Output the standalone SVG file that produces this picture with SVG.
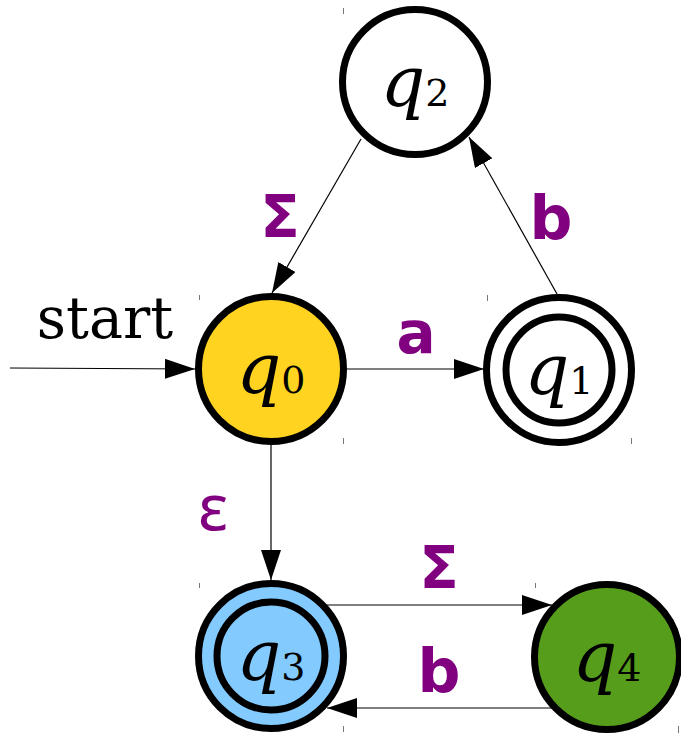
<svg xmlns="http://www.w3.org/2000/svg" width="681" height="734" viewBox="0 0 681 734">
<defs>
<marker id="arr" markerUnits="userSpaceOnUse" markerWidth="30" markerHeight="20" refX="30" refY="10" orient="auto">
<path d="M0,0 L30,10 L0,20 z" fill="#000"/>
</marker>
<style>
.st{stroke:#000;stroke-width:7}
.in{fill:none;stroke:#000;stroke-width:7}
.ed{fill:none;stroke:#000;stroke-width:1.2}
.tk{stroke:#777;stroke-width:1}
.nl{font-family:"DejaVu Serif",serif;text-anchor:middle;fill:#000}
.nl .q{font-style:italic;font-size:70px}
.nl .d{font-size:38px}
.lb{font-family:"DejaVu Sans",sans-serif;font-weight:bold;fill:#800080;text-anchor:middle}
</style>
</defs>
<rect width="681" height="734" fill="#fff"/>
<g id="ticks">
<line class="tk" x1="343.5" y1="8" x2="343.5" y2="14"/>
<line class="tk" x1="199.5" y1="295" x2="199.5" y2="300"/>
<line class="tk" x1="343.5" y1="438" x2="343.5" y2="444"/>
<line class="tk" x1="487.5" y1="295" x2="487.5" y2="301"/>
<line class="tk" x1="631.5" y1="438" x2="631.5" y2="444"/>
<line class="tk" x1="199.5" y1="583" x2="199.5" y2="588"/>
<line class="tk" x1="343.5" y1="726" x2="343.5" y2="732"/>
<line class="tk" x1="535.5" y1="583" x2="535.5" y2="588"/>
<line class="tk" x1="678.5" y1="726" x2="678.5" y2="733"/>
</g>
<g id="connectors">
<line class="ed" x1="10" y1="368" x2="195" y2="369" marker-end="url(#arr)"/>
<line class="ed" x1="361" y1="139" x2="272" y2="293" marker-end="url(#arr)"/>
<line class="ed" x1="557" y1="294" x2="469" y2="137" marker-end="url(#arr)"/>
<line class="ed" x1="347" y1="369" x2="484" y2="369" marker-end="url(#arr)"/>
<line class="ed" x1="271" y1="444" x2="271" y2="580" marker-end="url(#arr)"/>
<line class="ed" x1="326" y1="605" x2="552" y2="605" marker-end="url(#arr)"/>
<line class="ed" x1="553" y1="708" x2="327" y2="708" marker-end="url(#arr)"/>
</g>
<g id="labels">
<text x="105" y="338" font-family="DejaVu Serif, serif" font-size="57" text-anchor="middle">start</text>
<text class="lb" x="280" y="237" font-size="58">Σ</text>
<text class="lb" x="551" y="239" font-size="60">b</text>
<text class="lb" x="416" y="353" font-size="58">a</text>
<text x="213" y="530" font-family="Noto Sans, sans-serif" font-size="64" fill="#800080" text-anchor="middle">ε</text>
<text class="lb" x="439" y="588" font-size="58">Σ</text>
<text class="lb" x="439" y="692" font-size="60">b</text>
</g>
<g id="q2">
<circle class="st" cx="415" cy="82" r="72.5" fill="#fff"/>
<text class="nl" x="415" y="106"><tspan class="q">q</tspan><tspan class="d">2</tspan></text>
</g>
<g id="q0">
<circle class="st" cx="271" cy="369" r="72.5" fill="#FFD320"/>
<text class="nl" x="271" y="393"><tspan class="q">q</tspan><tspan class="d">0</tspan></text>
</g>
<g id="q1">
<circle class="st" cx="559" cy="370" r="72.5" fill="#fff"/>
<circle class="in" cx="559" cy="370" r="53"/>
<text class="nl" x="559" y="394"><tspan class="q">q</tspan><tspan class="d">1</tspan></text>
</g>
<g id="q3">
<circle class="st" cx="271" cy="656" r="72.5" fill="#83CAFF"/>
<circle class="in" cx="271" cy="656" r="54"/>
<text class="nl" x="271" y="680"><tspan class="q">q</tspan><tspan class="d">3</tspan></text>
</g>
<g id="q4">
<circle class="st" cx="607" cy="657" r="72.5" fill="#579D1C"/>
<text class="nl" x="607" y="681"><tspan class="q">q</tspan><tspan class="d">4</tspan></text>
</g>
</svg>
